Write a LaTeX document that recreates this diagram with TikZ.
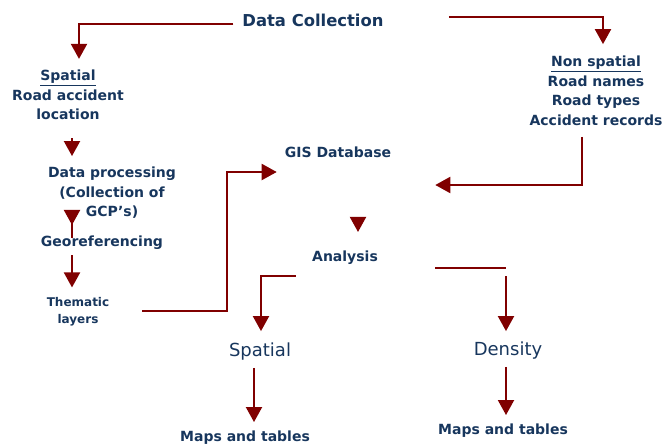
\documentclass[tikz,border=0pt]{standalone}
\usepackage{fontspec}
\setmainfont{DejaVu Sans}
\usetikzlibrary{arrows.meta, positioning, calc}
\definecolor{navy}{HTML}{17365D}
\definecolor{darkred}{HTML}{800000}

\begin{document}
\begin{tikzpicture}[x=1pt, y=-1pt,
        hdr/.style={font=\fontsize{16.4}{20}\selectfont\bfseries, text=navy, inner sep=2pt},
        txt/.style={font=\fontsize{14}{19.5}\selectfont\bfseries, text=navy, align=center, inner sep=2pt},
        txtsm/.style={font=\fontsize{12}{17}\selectfont\bfseries, text=navy, align=center, inner sep=2pt},
        cat/.style={font=\fontsize{18}{22}\selectfont, text=navy, inner sep=2pt},
        line/.style={draw=darkred, line width=2pt},
        arr/.style={line, -{Triangle[length=15pt, width=16pt]}}
    ]
        \useasboundingbox (0,0) rectangle (663,447);

        % -- data sources --
        \node[hdr] (dc)    at (313,20)  {Data Collection};
        \node[txt] (spat)  at (68,95)   {\underline{Spatial}\\Road accident\\location};
        \node[txt] (nonsp) at (596,91)  {\underline{Non spatial}\\Road names\\Road types\\Accident records};
        % -- left column: preparation of spatial data --
        \node[txt]   (dp)   at (112,193) {Data processing\\(Collection of\\GCP's)};
        \node[txt]   (geo)  at (102,243) {Georeferencing};
        \node[txtsm] (them) at (78,312)  {Thematic\\layers};
        % -- centre --
        \node[txt] (gis) at (338,152) {GIS Database};
        \node[txt] (ana) at (345,258) {Analysis};
        % -- results --
        \node[cat] (sp2)   at (260,352) {Spatial};
        \node[cat] (den)   at (508,351) {Density};
        \node[txt] (maps1) at (245,438) {Maps and tables};
        \node[txt] (maps2) at (503,431) {Maps and tables};

        % bends and columns
        \coordinate (lsplit) at (79,24);
        \coordinate (rsplit) at (603,17);
        \coordinate (lcol)   at (72,0);
        \coordinate (tbend)  at (227,311);
        \coordinate (nbend)  at (582,185);
        \coordinate (gcol)   at (358,0);
        \coordinate (ssplit) at (261,276);
        \coordinate (dsplit) at (506,268);
        \coordinate (scol)   at (254,0);

        % data collection -> spatial / non spatial
        \draw[arr, shorten <=7pt, shorten >=9pt]  (dc.west |- lsplit) -- (lsplit) -- (spat.north -| lsplit);
        \draw[arr, shorten <=63pt, shorten >=10pt] (dc.east |- rsplit) -- (rsplit) -- (nonsp.north -| rsplit);

        % left spine
        \draw[arr, shorten <=16pt, shorten >=9pt] (spat.south -| lcol) -- (dp.north -| lcol);
        \draw[arr, shorten <=-17pt, shorten >=9pt] (dp.south -| lcol) -- (geo.north -| lcol);
        \draw[arr, shorten <=3pt, shorten >=8pt] (geo.south -| lcol) -- (them.north -| lcol);

        % into the GIS database
        \draw[arr, shorten <=31pt, shorten >=6pt] (them.east |- tbend) -- (tbend) |- ([yshift=-20pt]gis.west);
        \draw[arr, shorten <=9pt, shorten >=42pt] (nonsp.south -| nbend) -- (nbend) -- (gis.east |- nbend);
        \draw[arr, shorten <=59pt, shorten >=17pt] (gis.south -| gcol) -- (ana.north -| gcol);

        % analysis -> spatial / density
        \draw[arr, shorten <=14pt, shorten >=10pt] (ana.west |- ssplit) -- (ssplit) -- (sp2.north -| ssplit);
        \draw[line, shorten <=55pt] (ana.east |- dsplit) -- (dsplit);
        \draw[arr, shorten <=8pt, shorten >=9pt] (dsplit) -- (den.north -| dsplit);

        % results -> maps and tables
        \draw[arr, shorten <=5pt, shorten >=7pt] (sp2.south -| scol) -- (maps1.north -| scol);
        \draw[arr, shorten <=5pt, shorten >=7pt] (den.south -| dsplit) -- (maps2.north -| dsplit);
    \end{tikzpicture}
\end{document}
